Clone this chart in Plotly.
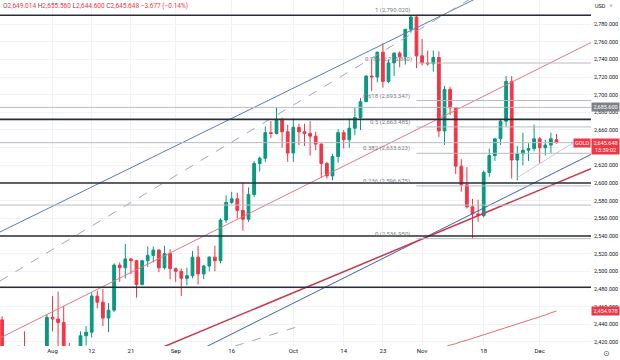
import pandas as pd
import plotly.graph_objects as go

# ---------------- data ----------------
dates = [d.strftime("%Y-%m-%d") for d in pd.bdate_range("2024-07-19", "2024-12-05")]

opens = [2445, 2400, 2396, 2409, 2398, 2364, 2387, 2384, 2411,
         2448, 2446, 2442, 2410, 2390, 2382, 2427, 2431, 2472, 2465, 2447, 2456,
         2507, 2504, 2514, 2512, 2485, 2512, 2518, 2524, 2504, 2520,
         2503, 2500, 2492, 2495, 2516, 2497, 2506, 2516, 2512, 2558,
         2578, 2582, 2569, 2559, 2587, 2622, 2628, 2657, 2656, 2672, 2658,
         2634, 2663, 2658, 2656, 2653, 2644, 2622, 2608, 2630, 2657, 2649, 2662, 2674, 2692,
         2721, 2720, 2748, 2715, 2736, 2747, 2743, 2774, 2788,
         2744, 2736, 2735, 2742, 2659, 2706, 2685, 2619, 2598, 2573, 2565,
         2563, 2612, 2631, 2650, 2670, 2715, 2626, 2633, 2637, 2639,
         2650, 2640, 2643, 2649.014]
highs = [2449, 2408, 2412, 2416, 2432, 2390, 2393, 2413, 2451,
         2472, 2477, 2461, 2419, 2401, 2432, 2438, 2476, 2478, 2480, 2464, 2509,
         2510, 2531, 2515, 2513, 2513, 2528, 2528, 2525, 2529, 2525,
         2504, 2503, 2504, 2523, 2529, 2507, 2517, 2529, 2560, 2586,
         2590, 2589, 2600, 2595, 2625, 2630, 2664, 2670, 2685.6, 2674, 2666,
         2673, 2667, 2667, 2670, 2658, 2645, 2624, 2633, 2661, 2660, 2673, 2685, 2696, 2722,
         2740, 2749, 2758, 2740, 2748, 2749, 2774, 2790.02, 2790,
         2763, 2750, 2750, 2749, 2710, 2709, 2685, 2627, 2618, 2582, 2581,
         2614, 2639, 2651, 2673, 2721, 2721, 2642, 2657, 2645, 2666,
         2652, 2649, 2657, 2655.56]
lows = [2393, 2384, 2384, 2398, 2353, 2353, 2376, 2380, 2405,
        2432, 2410, 2364, 2384, 2377, 2380, 2416, 2425, 2458, 2438, 2431, 2454,
        2488, 2492, 2497, 2470, 2484, 2505, 2510, 2499, 2502, 2491,
        2488, 2472, 2484, 2492, 2485, 2491, 2500, 2500, 2509, 2555,
        2576, 2560, 2546, 2556, 2584, 2613, 2624, 2651, 2655, 2640, 2624,
        2624, 2643, 2642, 2631, 2637, 2606, 2605, 2603, 2623, 2639, 2640, 2654, 2660, 2692,
        2704, 2714, 2708, 2713, 2721, 2731, 2734, 2770, 2730,
        2733, 2733, 2726, 2652, 2643, 2677, 2610, 2590, 2571, 2536.95, 2556,
        2561, 2607, 2625, 2643, 2664, 2605, 2603, 2620, 2625, 2636,
        2622, 2631, 2634, 2644.6]
closes = [2400, 2396, 2409, 2398, 2364, 2387, 2384, 2411, 2448,
          2446, 2442, 2410, 2390, 2382, 2427, 2431, 2472, 2465, 2447, 2456, 2507,
          2504, 2514, 2512, 2485, 2512, 2518, 2524, 2504, 2520, 2503,
          2500, 2492, 2495, 2516, 2497, 2506, 2516, 2512, 2558, 2578,
          2582, 2569, 2559, 2587, 2622, 2628, 2657, 2656, 2672, 2658, 2634,
          2663, 2658, 2656, 2653, 2644, 2622, 2608, 2630, 2657, 2649, 2662, 2674, 2692, 2721,
          2720, 2748, 2715, 2736, 2747, 2743, 2774, 2788, 2744,
          2736, 2735, 2742, 2659, 2706, 2685, 2619, 2598, 2573, 2565, 2563,
          2612, 2631, 2650, 2670, 2715, 2626, 2633, 2637, 2639, 2650,
          2640, 2643, 2650, 2645.648]

# moving average (last part, from Nov 7)
ma_start = "2024-11-07"
ma_values = [2414, 2416.5, 2418, 2420.5, 2422, 2424, 2426, 2428.5, 2430, 2432,
             2434.5, 2436, 2438, 2440.5, 2442.5, 2444, 2446.5, 2448.5, 2450.5, 2453, 2454.978]

# x ticks
tick_dates = ["2024-08-01", "2024-08-12", "2024-08-21", "2024-09-02", "2024-09-16", "2024-10-01",
              "2024-10-14", "2024-10-23", "2024-11-01", "2024-11-18", "2024-12-02"]
tick_text = ["Aug", "12", "21", "Sep", "16", "Oct", "14", "23", "Nov", "18", "Dec"]

price_ticks = [2420, 2440, 2460, 2480, 2500, 2520, 2540, 2560, 2580, 2600, 2620, 2640,
               2660, 2680, 2700, 2720, 2740, 2760, 2780]
hidden_price_ticks = [2640]   # covered by the last-price label

# horizontal drawings
black_levels = [2790, 2672, 2600, 2540, 2482]
gray_levels = [2685.6, 2575, 2645.648]

# fibonacci retracement
fib_ratios = ["1", "0.786", "0.618", "0.5", "0.382", "0.236", "0"]
fib_prices = [2790.020, 2735.860, 2693.347, 2663.485, 2633.623, 2596.675, 2536.950]
fib_start = "2024-10-31"

X_MAX = 105.16
# trendlines: (x index, price) pairs
trend_blue_up = ([-0.375, 85.3], [2544.5, 2810.9])
trend_dash_up = ([-0.375, 83.6], [2489.0, 2808.4])
trend_red_up = ([-0.375, X_MAX], [2424.5, 2759.1])
trend_blue_low = ([35.3, X_MAX], [2410.9, 2632.3])
trend_red_low = ([28.2, X_MAX], [2412.8, 2616.3])
trend_dash_low = ([41.6, 53.2], [2415.4, 2438.1])
trend_gray_tri = ([91.9, 102.3], [2605.7, 2646.9])

# ---------------- figure ----------------
GREEN = "#089981"
RED = "#F23645"
FONT = "Roboto"

idx = {d: i for i, d in enumerate(dates)}
xk = list(range(len(dates)))

fig = go.Figure()

# fib label partly hidden behind candles
fib_label_x = idx[fib_start] - 0.8
fig.add_trace(go.Scatter(x=[fib_label_x], y=[fib_prices[1] + 4.5],
                         text=[f"{fib_ratios[1]} ({fib_prices[1]:,.3f})"], mode="text",
                         textposition="middle left", textfont=dict(size=6, color="#787b86", family=FONT),
                         showlegend=False, hoverinfo="skip"))

fig.add_trace(go.Candlestick(
    x=xk, open=opens, high=highs, low=lows, close=closes,
    increasing=dict(line=dict(color=GREEN, width=1), fillcolor=GREEN),
    decreasing=dict(line=dict(color=RED, width=1), fillcolor=RED),
    whiskerwidth=0, showlegend=False, hoverinfo="skip"))

ma_x = list(range(idx[ma_start], idx[ma_start] + len(ma_values)))
fig.add_trace(go.Scatter(x=ma_x, y=ma_values, mode="lines",
                         line=dict(color="#e36b78", width=1), showlegend=False, hoverinfo="skip"))

for (xs, ys), color, width, dash in [
    (trend_blue_up, "#5a78c0", 1, "solid"),
    (trend_dash_up, "#a3a6b0", 1, "dash"),
    (trend_red_up, "#e07880", 1, "solid"),
    (trend_blue_low, "#3f5fae", 1, "solid"),
    (trend_red_low, "#c43a4c", 1.5, "solid"),
    (trend_dash_low, "#a3a6b0", 1, "dash"),
    (trend_gray_tri, "#c8cad1", 1, "solid"),
]:
    fig.add_trace(go.Scatter(x=xs, y=ys, mode="lines", line=dict(color=color, width=width, dash=dash),
                             showlegend=False, hoverinfo="skip"))

shapes = []
for lv in gray_levels:
    shapes.append(dict(type="line", xref="paper", x0=0, x1=1, yref="y", y0=lv, y1=lv,
                       line=dict(color="#b8bbc4", width=1)))
fx0 = idx[fib_start]
for lv in fib_prices:
    shapes.append(dict(type="line", xref="x", x0=fx0, x1=X_MAX, yref="y", y0=lv, y1=lv,
                       line=dict(color="#b8bbc4", width=1)))
for lv in black_levels:
    shapes.append(dict(type="line", xref="paper", x0=0, x1=1, yref="y", y0=lv, y1=lv,
                       line=dict(color="#2a2e39", width=1.6)))

annotations = []
for r, p in zip(fib_ratios, fib_prices):
    if r == "0.786":
        continue
    annotations.append(dict(x=fib_label_x, y=p, xref="x", yref="y", xanchor="right", yanchor="middle",
                            yshift=5, text=f"{r} ({p:,.3f})", showarrow=False,
                            font=dict(size=6, color="#787b86", family=FONT)))

header = ("<span style='color:#555'>O</span><span style='color:%s'>2,649.014</span> "
          "<span style='color:#555'>H</span><span style='color:%s'>2,655.560</span> "
          "<span style='color:#555'>L</span><span style='color:%s'>2,644.600</span> "
          "<span style='color:#555'>C</span><span style='color:%s'>2,645.648</span> "
          "<span style='color:%s'>−3.677 (−0.14%%)</span>") % (RED, RED, RED, RED, RED)
annotations.append(dict(x=0, y=1, xref="paper", yref="paper", xanchor="left", yanchor="top",
                        xshift=1, yshift=0, text=header, showarrow=False,
                        font=dict(size=6.5, family=FONT)))

def price_box(val, bg, text=None, yshift=0, fc="white"):
    return dict(x=1, y=val, xref="paper", yref="y", xanchor="left", yanchor="middle",
                xshift=0, yshift=yshift, text=text or f"{val:,.3f}", showarrow=False,
                bgcolor=bg, borderpad=1, width=25, align="center",
                font=dict(size=5.5, color=fc, family=FONT))

annotations.append(price_box(2685.6, "#7d8089"))
annotations.append(price_box(closes[-1], RED, text=f"{closes[-1]:,.3f}<br>13:39:02", yshift=-3.5))
annotations.append(price_box(ma_values[-1], RED))
annotations.append(dict(x=1, y=closes[-1], xref="paper", yref="y", xanchor="right", yanchor="middle",
                        xshift=0, yshift=0, text="GOLD", showarrow=False, bgcolor=RED, borderpad=1,
                        font=dict(size=5.5, color="white", family=FONT)))
annotations.append(dict(x=1, y=1, xref="paper", yref="paper", xanchor="left", yanchor="top",
                        xshift=2, yshift=-1, text="USD   ˅", showarrow=False,
                        font=dict(size=5.5, color="#131722", family=FONT)))
annotations.append(dict(x=1, y=0, xref="paper", yref="paper", xanchor="left", yanchor="top",
                        xshift=10, yshift=-1, text="⊙", showarrow=False,
                        font=dict(size=8, color="#555", family="DejaVu Sans")))

tick_idx = [idx[d] for d in tick_dates]

fig.update_layout(
    width=620, height=360,
    margin=dict(l=0, r=29, t=0, b=14),
    paper_bgcolor="white", plot_bgcolor="white",
    shapes=shapes, annotations=annotations,
    showlegend=False,
    xaxis=dict(range=[-0.375, X_MAX], tickvals=tick_idx, ticktext=tick_text,
               tickfont=dict(size=6, color="#131722", family=FONT),
               showgrid=True, gridcolor="#f0f2f6", zeroline=False, ticks="",
               rangeslider=dict(visible=False), fixedrange=True, showline=False),
    yaxis=dict(side="right", range=[2415.4, 2807.2], tickvals=price_ticks,
               ticktext=["" if v in hidden_price_ticks else f"{v:,.3f}" for v in price_ticks],
               tickfont=dict(size=5.5, color="#131722", family=FONT),
               showgrid=True, gridcolor="#f0f2f6", zeroline=False, ticks="",
               ticklabelstandoff=2, fixedrange=True, showline=False),
)

fig.write_html("out.html", config={"displayModeBar": False},
               post_script="document.body.style.margin='0';document.body.style.overflow='hidden';")
